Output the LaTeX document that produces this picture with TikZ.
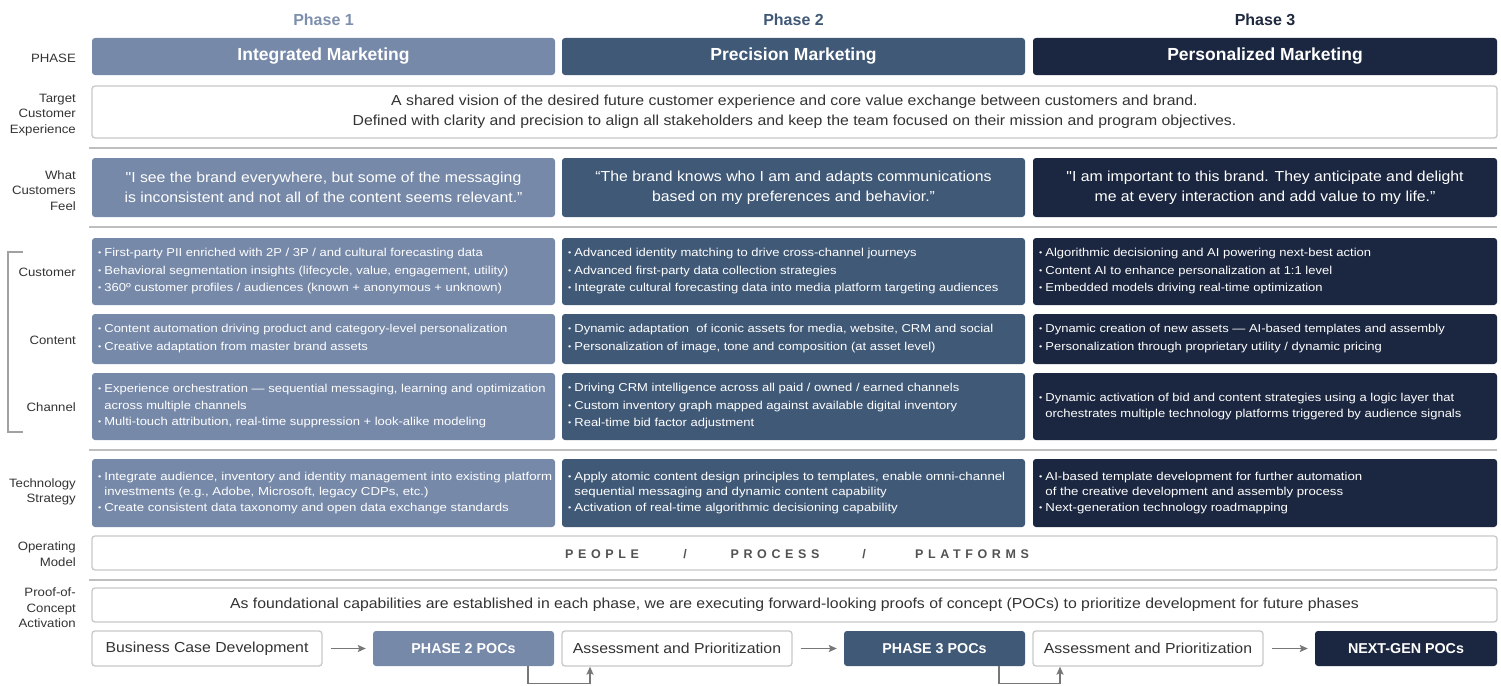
\documentclass[tikz,border=0pt]{standalone}
\usepackage{fontspec}
\newfontfamily\myfont{Liberation Sans}[FakeStretch=1.09]
\newfontfamily\myfontc{Liberation Sans}[FakeStretch=1.13]
\newfontfamily\myfontt{Liberation Sans}[FakeStretch=1.15]
\newfontfamily\myfontb{Liberation Sans}
\newfontfamily\myfontsp{Liberation Sans}[LetterSpace=37]
\usetikzlibrary{arrows.meta}
\definecolor{pone}{HTML}{7689A9}
\definecolor{ptwo}{HTML}{405977}
\definecolor{pthree}{HTML}{1B2740}
\definecolor{tone}{HTML}{7D8FAD}
\definecolor{ttwo}{HTML}{405977}
\definecolor{tthree}{HTML}{1F2A3F}
\definecolor{bord}{HTML}{C8C8C8}
\definecolor{sepc}{HTML}{BEBEBE}
\definecolor{txt}{HTML}{333333}
\definecolor{arrc}{HTML}{777777}
\newcommand{\fs}[2]{\fontsize{#1}{#2}\selectfont}
\newcommand{\bu}{\raisebox{0.1em}{\fontsize{8}{8}\selectfont •}\hspace{0.28em}}
\newcommand{\hg}{\phantom{\bu}}
% name, x, y, w, h, fill, text, font
\newcommand{\cellbox}[8]{%
  \node[box, fill=#6, minimum width=#4pt, minimum height=#5pt] (#1) at (#2+#4/2, #3+#5/2) {};
  \node[bul, font=#8, anchor=west] (#1t) at ([xshift=6pt]#1.west) {#7};
}
\begin{document}
\begin{tikzpicture}[x=1pt,y=-1pt,
  box/.style={rounded corners=3pt, inner sep=0pt, draw=none},
  wbox/.style={rounded corners=3pt, inner sep=0pt, fill=white, draw=bord, line width=1.3pt},
  bul/.style={inner sep=0pt, align=left, text=white},
  lab/.style={anchor=east, align=right, inner sep=0pt, text=txt, font=\myfont\fs{12.1}{15.5}},
  ttl/.style={inner sep=0pt, font=\myfontb\bfseries\fs{16}{18}},
  hdr/.style={box, minimum width=463pt, minimum height=37pt, text=white, font=\myfontb\bfseries\fs{17.5}{20}},
  feel/.style={box, minimum width=463pt, minimum height=59pt, text=white, align=center, font=\myfont\fs{14.5}{20}},
  sep/.style={draw=sepc, line width=2.2pt},
  wtxt/.style={text=txt, font=\myfont\fs{14.5}{20}},
  pocb/.style={box, minimum height=35pt, text=white, font=\myfontb\bfseries\fs{14.3}{16}},
  arr/.style={draw=arrc, line width=1.4pt, -{Stealth[length=8pt,width=7pt,inset=1.5pt]}}
]
\myfont
\useasboundingbox[fill=white] (0,0) rectangle (1501,685);

% phase titles
\node[ttl, text=tone] (t1) at (323.5,20) {Phase 1};
\node[ttl, text=ttwo] (t2) at (793.5,20) {Phase 2};
\node[ttl, text=tthree] (t3) at (1265,20) {Phase 3};

% left labels
\node[lab] (lphase) at (76,58) {PHASE};
\node[lab] (ltce) at (76,115) {Target\\Customer\\Experience};
\node[lab] (lfeel) at (76,190.5) {What\\Customers\\Feel};
\node[lab] (lcust) at (76,272) {Customer};
\node[lab] (lcont) at (76,340) {Content};
\node[lab] (lchan) at (76,407) {Channel};
\node[lab] (ltech) at (76,492) {Technology\\Strategy};
\node[lab] (lop) at (76,554) {Operating\\Model};
\node[lab] (lpoc) at (76,608) {Proof-of-\\Concept\\Activation};

% bracket
\draw[draw=sepc!85!black, line width=1.5pt] (23,252) -- (8,252) -- (8,432) -- (23,432);

% header row
\node[hdr, fill=pone] (h1) at (323.5,56.5) {Integrated Marketing};
\node[hdr, fill=ptwo] (h2) at (793.5,56.5) {Precision Marketing};
\node[hdr, fill=pthree, minimum width=464pt] (h3) at (1265,56.5) {Personalized Marketing};

% target customer experience
\node[wbox, minimum width=1405pt, minimum height=52pt, align=center, wtxt] (tce) at (794.5,112)
 {A shared vision of the desired future customer experience and core value exchange between customers and brand.\\
  Defined with clarity and precision to align all stakeholders and keep the team focused on their mission and program objectives.};

\draw[sep] (89,148) -- (1497,148);

% what customers feel
\node[feel, fill=pone] (f1) at (323.5,187.5) {"I see the brand everywhere, but some of the messaging\\is inconsistent and not all of the content seems relevant.”};
\node[feel, fill=ptwo] (f2) at (793.5,187.5) {“The brand knows who I am and adapts communications\\based on my preferences and behavior.”};
\node[feel, fill=pthree, minimum width=464pt] (f3) at (1265,187.5) {"I am important to this brand. They anticipate and delight\\me at every interaction and add value to my life.”};

\draw[sep] (89,227) -- (1497,227);

% customer row
\cellbox{cu1}{92}{238}{463}{67}{pone}{\bu First-party PII enriched with 2P / 3P / and cultural forecasting data\\
\bu Behavioral segmentation insights (lifecycle, value, engagement, utility)\\
\bu 360º customer profiles / audiences (known + anonymous + unknown)}{\myfontc\fs{11.5}{17.5}}
\cellbox{cu2}{562}{238}{463}{67}{ptwo}{\bu Advanced identity matching to drive cross-channel journeys\\
\bu Advanced first-party data collection strategies\\
\bu Integrate cultural forecasting data into media platform targeting audiences}{\myfontc\fs{11.5}{17.5}}
\cellbox{cu3}{1033}{238}{464}{67}{pthree}{\bu Algorithmic decisioning and AI powering next-best action\\
\bu Content AI to enhance personalization at 1:1 level\\
\bu Embedded models driving real-time optimization}{\myfontc\fs{11.5}{17.5}}

% content row
\cellbox{co1}{92}{314}{463}{50}{pone}{\bu Content automation driving product and category-level personalization\\
\bu Creative adaptation from master brand assets}{\myfontc\fs{11.5}{18}}
\cellbox{co2}{562}{314}{463}{50}{ptwo}{\bu Dynamic adaptation\ \ of iconic assets for media, website, CRM and social\\
\bu Personalization of image, tone and composition (at asset level)}{\myfontc\fs{11.5}{18}}
\cellbox{co3}{1033}{314}{464}{50}{pthree}{\bu Dynamic creation of new assets — AI-based templates and assembly\\
\bu Personalization through proprietary utility / dynamic pricing}{\myfontc\fs{11.5}{18}}

% channel row
\cellbox{ch1}{92}{373}{463}{67}{pone}{\bu Experience orchestration — sequential messaging, learning and optimization\\
\hg across multiple channels\\
\bu Multi-touch attribution, real-time suppression + look-alike modeling}{\myfontc\fs{11.5}{16.5}}
\cellbox{ch2}{562}{373}{463}{67}{ptwo}{\bu Driving CRM intelligence across all paid / owned / earned channels\\
\bu Custom inventory graph mapped against available digital inventory\\
\bu Real-time bid factor adjustment}{\myfontc\fs{11.5}{17.5}}
\cellbox{ch3}{1033}{373}{464}{67}{pthree}{\bu Dynamic activation of bid and content strategies using a logic layer that\\
\hg orchestrates multiple technology platforms triggered by audience signals}{\myfontc\fs{11.5}{16}}

\draw[sep] (89,450) -- (1497,450);

% technology strategy row
\cellbox{te1}{92}{459}{463}{68}{pone}{\bu Integrate audience, inventory and identity management into existing platform\\
\hg investments (e.g., Adobe, Microsoft, legacy CDPs, etc.)\\
\bu Create consistent data taxonomy and open data exchange standards}{\myfontt\fs{11.5}{15.5}}
\cellbox{te2}{562}{459}{463}{68}{ptwo}{\bu Apply atomic content design principles to templates, enable omni-channel\\
\hg sequential messaging and dynamic content capability\\
\bu Activation of real-time algorithmic decisioning capability}{\myfontt\fs{11.5}{15.5}}
\cellbox{te3}{1033}{459}{464}{68}{pthree}{\bu AI-based template development for further automation\\
\hg of the creative development and assembly process\\
\bu Next-generation technology roadmapping}{\myfontt\fs{11.5}{15.5}}

% operating model
\node[wbox, minimum width=1405pt, minimum height=34pt] (op) at (794.5,553) {};
\begin{scope}[every node/.style={inner sep=0pt, text=txt!85!white, font=\myfontsp\bfseries\fs{12.5}{14}}]
\node (people) at (602,554) {PEOPLE};
\node (sl1) at (685,554) {/};
\node (process) at (775,554) {PROCESS};
\node (sl2) at (864,554) {/};
\node (platforms) at (972,554) {PLATFORMS};
\end{scope}

\draw[sep] (89,580) -- (1497,580);

% POC activation
\node[wbox, minimum width=1405pt, minimum height=34pt, wtxt] (poc) at (794.5,605)
 {As foundational capabilities are established in each phase, we are executing forward-looking proofs of concept (POCs) to prioritize development for future phases};

% bottom flow
\node[wbox, minimum width=230pt, minimum height=35pt, wtxt] (bcd) at (207,648.5) {Business Case Development};
\node[pocb, fill=pone, minimum width=181pt] (p2) at (463.5,648.5) {PHASE 2 POCs};
\node[wbox, minimum width=230pt, minimum height=35pt, wtxt] (as1) at (677,648.5) {Assessment and Prioritization};
\node[pocb, fill=ptwo, minimum width=181pt] (p3) at (934.5,648.5) {PHASE 3 POCs};
\node[wbox, minimum width=230pt, minimum height=35pt, wtxt] (as2) at (1148,648.5) {Assessment and Prioritization};
\node[pocb, fill=pthree, minimum width=182pt] (ng) at (1406,648.5) {NEXT-GEN POCs};

\draw[arr, shorten <=8pt, shorten >=7pt] (bcd.east) -- (p2.west);
\draw[arr, shorten <=8pt, shorten >=7pt] (as1.east) -- (p3.west);
\draw[arr, shorten <=8pt, shorten >=7pt] (as2.east) -- (ng.west);

\draw[arr] ([xshift=64.5pt]p2.south) -- ++(0,17) -| ([xshift=-87pt]as1.south);
\draw[arr] ([xshift=64.5pt]p3.south) -- ++(0,17) -| ([xshift=-88pt]as2.south);
\end{tikzpicture}
\end{document}
